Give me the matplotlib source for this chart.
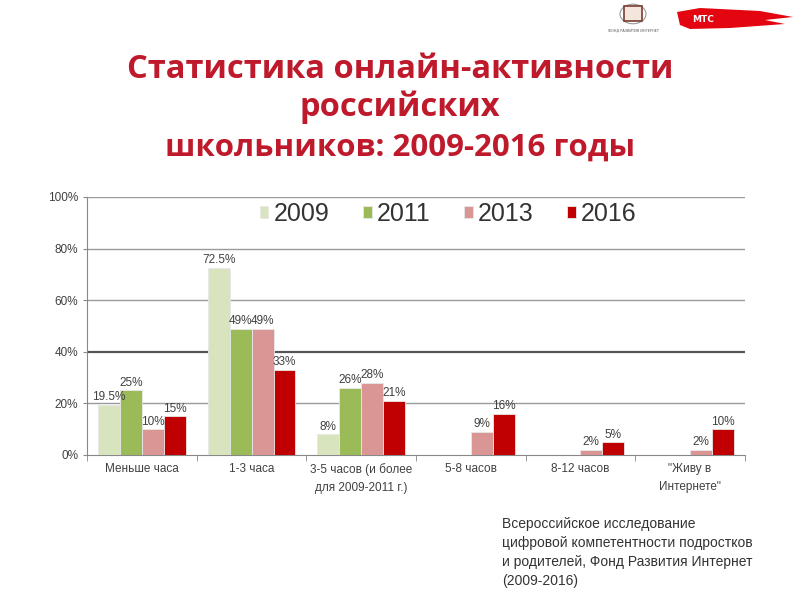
import numpy as np
import matplotlib.pyplot as plt
from matplotlib.patches import Polygon, Circle, Rectangle

categories = ["Меньше часа", "1-3 часа", "3-5 часов (и более\nдля 2009-2011 г.)",
              "5-8 часов", "8-12 часов", "\"Живу в\nИнтернете\""]
years = ["2009", "2011", "2013", "2016"]
v2009 = [19.5, 72.5, 8, None, None, None]
v2011 = [25, 49, 26, None, None, None]
v2013 = [10, 49, 28, 9, 2, 2]
v2016 = [15, 33, 21, 16, 5, 10]
labels2009 = ["19.5%", "72.5%", "8%", "", "", ""]
labels2011 = ["25%", "49%", "26%", "", "", ""]
labels2013 = ["10%", "49%", "28%", "9%", "2%", "2%"]
labels2016 = ["15%", "33%", "21%", "16%", "5%", "10%"]
colors = ["#D7E4BD", "#9BBB59", "#D99694", "#C00000"]

series = [v2009, v2011, v2013, v2016]
series_labels = [labels2009, labels2011, labels2013, labels2016]

fig = plt.figure(figsize=(8, 6), dpi=100)
ax = fig.add_axes([0.109, 0.2417, 0.822, 0.43])

x = np.arange(len(categories))
w = 0.2
for k, (vals, labs) in enumerate(zip(series, series_labels)):
    h = [np.nan if v is None else v for v in vals]
    bars = ax.bar(x + (k - 1.5) * w, h, w, color=colors[k], edgecolor="#e8e8e8",
                  linewidth=0.6, label=years[k], zorder=3)
    for b, v, t in zip(bars, vals, labs):
        if v is None:
            continue
        ax.text(b.get_x() + b.get_width() / 2, v + 0.6, t, ha="center", va="bottom",
                fontsize=8.5, color="#404040", family="Liberation Sans", zorder=4)

ax.set_xlim(-0.5, len(categories) - 0.5)
ax.set_ylim(0, 100)
ax.set_yticks([0, 20, 40, 60, 80, 100])
ax.set_yticklabels(["0%", "20%", "40%", "60%", "80%", "100%"], fontsize=8.5,
                   color="#404040", family="Liberation Sans")
for yv in [20, 40, 60, 80, 100]:
    ax.axhline(yv, color="#555555" if yv == 40 else "#9a9a9a",
               lw=1.6 if yv == 40 else 1.0, zorder=1)

ax.set_xticks(x)
ax.set_xticklabels(categories, fontsize=8.5, color="#404040", family="Liberation Sans",
                   linespacing=1.6)
ax.tick_params(axis="x", length=0, pad=6)
ax.set_xticks(np.arange(-0.5, len(categories), 1), minor=True)
ax.tick_params(axis="x", which="minor", length=4, color="#888888")
ax.tick_params(axis="y", length=3, color="#888888")

for s in ["top", "right"]:
    ax.spines[s].set_visible(False)
ax.spines["left"].set_color("#888888")
ax.spines["bottom"].set_color("#888888")

ax.legend(loc="center", bbox_to_anchor=(0.549, 0.934), ncol=4, frameon=False,
          prop={"family": "Liberation Sans", "size": 18},
          labelcolor="#333333", handlelength=0.35, handleheight=0.35,
          handletextpad=0.2, columnspacing=1.35, borderaxespad=0)

title_color = "#BE1A2C"
fig.text(0.5, 1 - 70 / 600, "Статистика онлайн-активности", ha="center", va="center",
         fontsize=23.5, fontweight="bold", color=title_color, family="Open Sans")
fig.text(0.5, 1 - 107 / 600, "российских", ha="center", va="center",
         fontsize=23.5, fontweight="bold", color=title_color, family="Open Sans")
fig.text(0.5, 1 - 148 / 600, "школьников: 2009-2016 годы", ha="center", va="center",
         fontsize=22.5, fontweight="bold", color=title_color, family="Open Sans")

fig.text(502 / 800, 1 - 517 / 600,
         "Всероссийское исследование\nцифровой компетентности подростков\n"
         "и родителей, Фонд Развития Интернет\n(2009-2016)",
         ha="left", va="top", fontsize=10, color="#333333", family="Liberation Sans",
         linespacing=1.45)


# logos (top right), pixel coords from top-left
def px(pts):
    return [[a / 800, 1 - b / 600] for a, b in pts]


fig.patches.append(Polygon(px([[677, 12], [700, 8], [760, 11], [793, 17], [765, 20],
                               [785, 24], [730, 28], [690, 29], [680, 25]]),
                           closed=True, transform=fig.transFigure,
                           facecolor="#E30611", edgecolor="none"))
fig.text(692 / 800, 1 - 19 / 600, "МТС", fontsize=6.5, color="white",
         fontweight="bold", va="center", ha="left")
fig.patches.append(Circle((633 / 800, 1 - 14 / 600), 13 / 800, transform=fig.transFigure,
                          facecolor="none", edgecolor="#999999", lw=0.8))
fig.patches.append(Rectangle((624 / 800, 1 - 21 / 600), 18 / 800, 15 / 600,
                             transform=fig.transFigure,
                             facecolor="#f3e6dc", edgecolor="#7a3b2e", lw=1.2))
fig.text(633 / 800, 1 - 30 / 600, "ФОНД РАЗВИТИЯ ИНТЕРНЕТ", fontsize=2.5, color="#555555",
         ha="center", va="center")

fig.savefig("out.png", dpi=100)
